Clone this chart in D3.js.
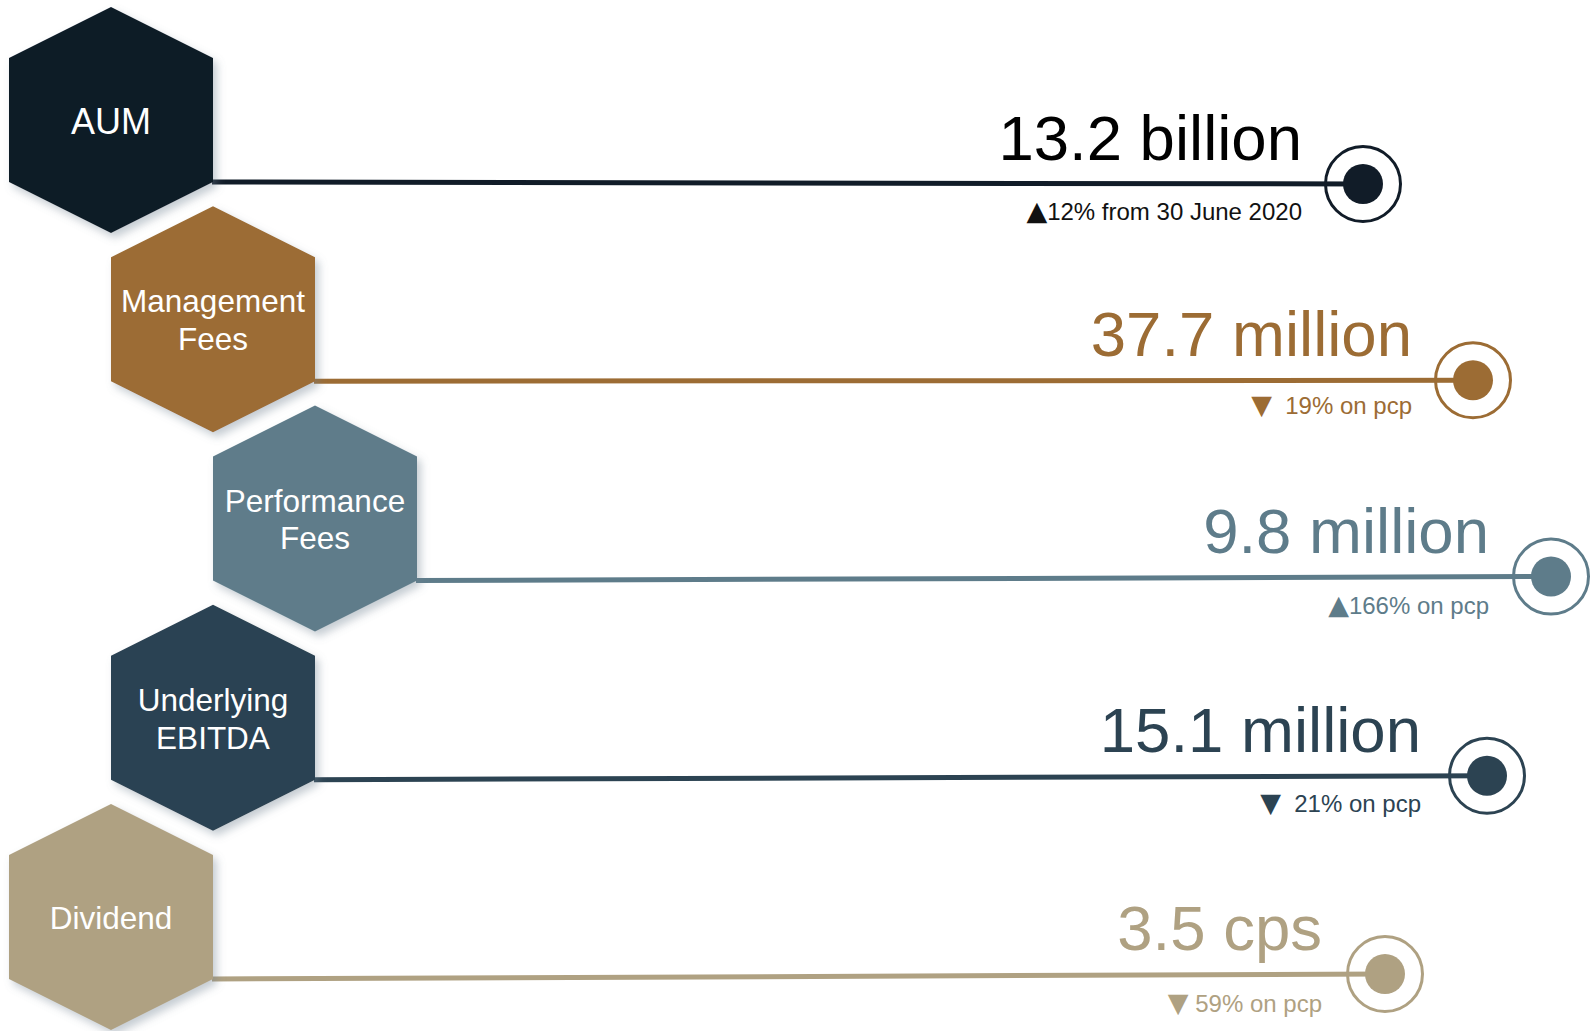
<!DOCTYPE html>
<html>
<head>
<meta charset="utf-8">
<script src="https://cdn.jsdelivr.net/npm/d3@7"></script>
<style>
  html, body { margin: 0; padding: 0; background: #ffffff; }
  svg { display: block; }
  text { font-family: "Liberation Sans", Arial, sans-serif; }
</style>
</head>
<body>
<svg id="chart" width="1592" height="1031"></svg>
<script>
// ---- data ----
const categories = [["AUM"], ["Management", "Fees"], ["Performance", "Fees"], ["Underlying", "EBITDA"], ["Dividend"]];
const valueLabels = ["13.2 billion", "37.7 million", "9.8 million", "15.1 million", "3.5 cps"];
const changeArrows = ["\u25B2", "\u25BC", "\u25B2", "\u25BC", "\u25BC"];
const changeLabels = ["12% from 30 June 2020", "  19% on pcp", "166% on pcp", "  21% on pcp", " 59% on pcp"];

// ---- layout & style (not data) ----
const hexLevel = [0, 1, 2, 1, 0];
const circleX = [1363, 1473, 1551, 1487, 1385];
const circleDy = [64, 61, 58, 58, 57];
const textDx = [-61, -61, -62, -66, -63];
const subDy = [36, 34, 37, 36, 38];
const hexColors = ["#111c28", "#9c6c34", "#5e7c8a", "#2c4352", "#afa182"];
const valueColors = ["#000000", "#9c6c34", "#5e7c8a", "#2c4352", "#afa182"];
const subColors = ["#111111", "#9c6c34", "#5e7c8a", "#2c4352", "#afa182"];
const labelSizes = [36, 31.5, 31.5, 31.5, 31.5];

const svg = d3.select("#chart");
const idx = d3.range(categories.length);

const y = d3.scalePoint().domain(idx).range([120, 917]);
const xHex = d3.scaleLinear().domain([0, 2]).range([111, 315]);

const HW = 102, HH = 113, HS = 62;

const defs = svg.append("defs");
const f = defs.append("filter").attr("id", "shadow")
  .attr("x", "-20%").attr("y", "-20%").attr("width", "150%").attr("height", "150%");
f.append("feDropShadow").attr("dx", 4).attr("dy", 5).attr("stdDeviation", 4.5)
  .attr("flood-color", "#6f7f8f").attr("flood-opacity", 0.4);

const hexPath = (cx, cy) => {
  const pts = [[cx, cy - HH], [cx + HW, cy - HS], [cx + HW, cy + HS], [cx, cy + HH], [cx - HW, cy + HS], [cx - HW, cy - HS]];
  return d3.line()(pts) + "Z";
};

const rows = svg.selectAll("g.row").data(idx).join("g").attr("class", "row");

// connecting lines
rows.append("line")
  .attr("x1", i => xHex(hexLevel[i]) + HW - 1)
  .attr("y1", i => y(i) + HS)
  .attr("x2", i => circleX[i])
  .attr("y2", i => y(i) + circleDy[i])
  .attr("stroke", i => hexColors[i])
  .attr("stroke-width", 5);

// end rings and dots
rows.append("circle")
  .attr("cx", i => circleX[i])
  .attr("cy", i => y(i) + circleDy[i])
  .attr("r", 37.5)
  .attr("fill", "none")
  .attr("stroke", i => hexColors[i])
  .attr("stroke-width", 3);
rows.append("circle")
  .attr("cx", i => circleX[i])
  .attr("cy", i => y(i) + circleDy[i])
  .attr("r", 20)
  .attr("fill", i => hexColors[i]);

// value labels
rows.append("text")
  .attr("x", i => circleX[i] + textDx[i])
  .attr("y", i => y(i) + circleDy[i] - 24)
  .attr("text-anchor", "end")
  .attr("font-size", 63.5)
  .attr("fill", i => valueColors[i])
  .text(i => valueLabels[i]);

const sub = rows.append("text")
  .attr("x", i => circleX[i] + textDx[i])
  .attr("y", i => y(i) + circleDy[i] + subDy[i])
  .attr("text-anchor", "end")
  .attr("font-size", 24)
  .attr("fill", i => subColors[i])
  .attr("xml:space", "preserve")
  .style("white-space", "pre");
sub.append("tspan")
  .style("font-family", "'DejaVu Sans', sans-serif")
  .attr("font-size", 27)
  .text(i => changeArrows[i]);
sub.append("tspan")
  .text(i => changeLabels[i]);

// hexagons
const hexG = svg.selectAll("g.hex").data(idx).join("g").attr("class", "hex");
hexG.append("path")
  .attr("d", i => hexPath(xHex(hexLevel[i]), y(i)))
  .attr("fill", i => hexColors[i])
  .attr("filter", "url(#shadow)");

hexG.each(function(i) {
  const g = d3.select(this);
  const lines = categories[i];
  const fs = labelSizes[i];
  const lh = fs * 1.2;
  const cx = xHex(hexLevel[i]);
  const first = y(i) - (lines.length - 1) * lh / 2 + fs * 0.38;
  const t = g.append("text")
    .attr("text-anchor", "middle")
    .attr("font-size", fs)
    .attr("fill", "#ffffff");
  lines.forEach((s, k) => {
    t.append("tspan").attr("x", cx).attr("y", first + k * lh).text(s);
  });
});
</script>
</body>
</html>
